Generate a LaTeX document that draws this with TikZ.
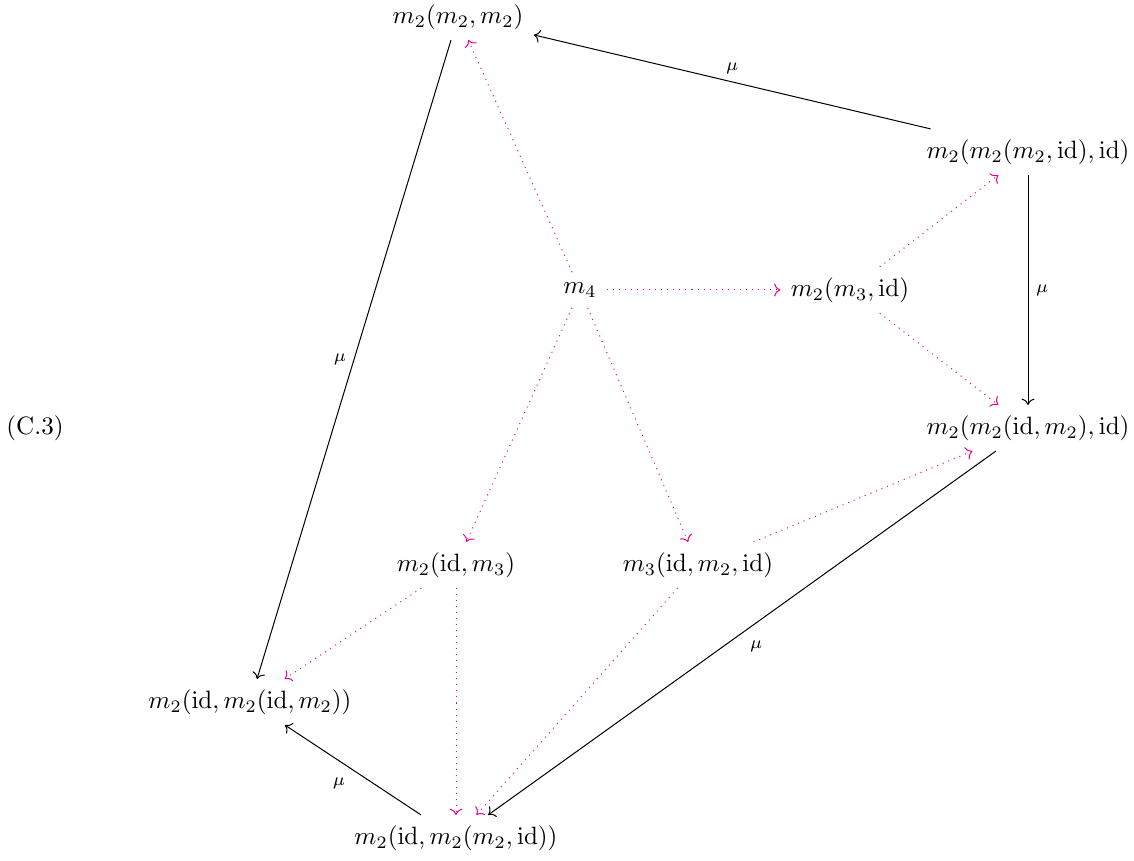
\documentclass[tikz,border=0pt]{standalone}
\usepackage{amsmath,amssymb}
\usetikzlibrary{arrows.meta}
\definecolor{dotpink}{RGB}{236,0,140}

\begin{document}
\begin{tikzpicture}[
  x=0.014cm, y=-0.014cm,
  obj/.style={inner sep=4pt},
  mor/.style={->, thin},
  hom/.style={->, dotted, thin, dotpink},
  lbl/.style={font=\scriptsize, inner sep=3pt}
]
\useasboundingbox (0,0) rectangle (1134,861);
\node (eqno) at (35,428) {(C.3)};
\node[obj] (top) at (458,17) {$m_2(m_2,m_2)$};
\node[obj] (rone) at (1028,152) {$m_2(m_2(m_2,\mathrm{id}),\mathrm{id})$};
\node[obj] (mfour) at (580,290) {$m_4$};
\node[obj] (mthr) at (850,290) {$m_2(m_3,\mathrm{id})$};
\node[obj] (rtwo) at (1028,428) {$m_2(m_2(\mathrm{id},m_2),\mathrm{id})$};
\node[obj] (lthr) at (456,565) {$m_2(\mathrm{id},m_3)$};
\node[obj] (mid) at (698,565) {$m_3(\mathrm{id},m_2,\mathrm{id})$};
\node[obj] (left) at (250,702) {$m_2(\mathrm{id},m_2(\mathrm{id},m_2))$};
\node[obj] (bot) at (456,838) {$m_2(\mathrm{id},m_2(m_2,\mathrm{id}))$};
% outer pentagon
\draw[mor] (rone) -- node[lbl, above] {$\mu$} (top);
\draw[mor] (top) -- node[lbl, left] {$\mu$} (left);
\draw[mor] (rone) -- node[lbl, right] {$\mu$} (rtwo);
\draw[mor] (rtwo) -- node[lbl, below right] {$\mu$} (bot);
\draw[mor] (bot) -- node[lbl, below left] {$\mu$} (left);
% homotopies
\draw[hom] (mfour) -- (top);
\draw[hom] (mfour) -- (mthr);
\draw[hom] (mfour) -- (lthr);
\draw[hom] (mfour) -- (mid);
\draw[hom] (mthr) -- (rone);
\draw[hom] (mthr) -- (rtwo);
\draw[hom] (mid) -- (rtwo);
\draw[hom] (lthr) -- (left);
\draw[hom] (lthr) -- (bot);
\draw[hom] (mid) -- (bot);
\end{tikzpicture}
\end{document}
